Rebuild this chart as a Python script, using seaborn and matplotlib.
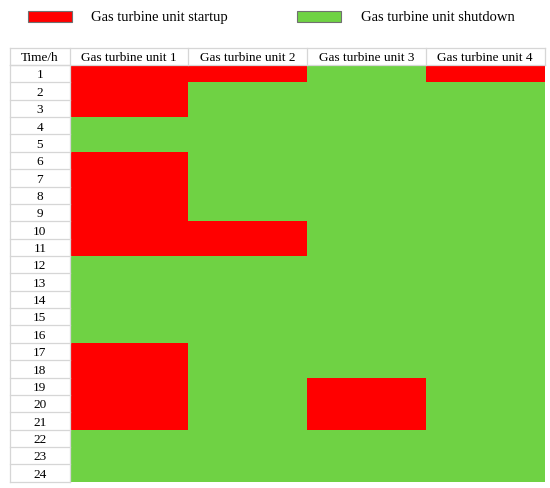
import numpy as np
import pandas as pd
import seaborn as sns
import matplotlib.pyplot as plt
from matplotlib.colors import ListedColormap
from matplotlib.patches import Patch

# data: 1 = startup, 0 = shutdown
hours = list(range(1, 25))
units = ["Gas turbine unit 1", "Gas turbine unit 2", "Gas turbine unit 3", "Gas turbine unit 4"]
unit1_on = [1, 2, 3, 6, 7, 8, 9, 10, 11, 17, 18, 19, 20, 21]
unit2_on = [1, 10, 11]
unit3_on = [19, 20, 21]
unit4_on = [1]

RED = "#ff0000"
GREEN = "#6fd244"
GRID = "#d6d6d6"

plt.rcParams['font.family'] = ['Liberation Serif', 'DejaVu Serif']

status = pd.DataFrame(
    {u: [1 if h in on else 0 for h in hours]
     for u, on in zip(units, [unit1_on, unit2_on, unit3_on, unit4_on])},
    index=hours)

fig = plt.figure(figsize=(5.5, 4.88), dpi=100)
W, H = 550, 488
ax = fig.add_axes([69.5 / W, 1 - 481.7 / H, (544.5 - 69.5) / W, (481.7 - 65) / H])
sns.heatmap(status, cmap=ListedColormap([GREEN, RED]), vmin=0, vmax=1,
            cbar=False, xticklabels=False, yticklabels=False, ax=ax)
ax.set_xlabel("")
ax.set_ylabel("")

# header row and time column, drawn outside the cell area
n_rows, n_cols = status.shape
dy = 0.1  # nudge text a little lower, like the original table
ax.text(-0.25, -0.5 + dy, "Time/h", ha="center", va="center", fontsize=9.5, clip_on=False)
for j, u in enumerate(units):
    ax.text(j + 0.5, -0.5 + dy, u, ha="center", va="center", fontsize=9.5, clip_on=False)
for i, h in enumerate(hours):
    ax.text(-0.25, i + 0.5 + dy, str(h), ha="center", va="center", fontsize=9.5, clip_on=False)

lw = 0.9
for i in range(n_rows + 1):
    ax.plot([-0.5, 0], [i, i], color=GRID, lw=lw, clip_on=False)
for y in [-1, 0]:
    ax.plot([-0.5, n_cols], [y, y], color=GRID, lw=lw, clip_on=False)
for x in [-0.5, 0] + list(range(1, n_cols + 1)):
    ax.plot([x, x], [-1, 0], color=GRID, lw=lw, clip_on=False)
for x in [-0.5, 0]:
    ax.plot([x, x], [0, n_rows], color=GRID, lw=lw, clip_on=False)

handles = [Patch(facecolor=RED, edgecolor="#707070", linewidth=0.8),
           Patch(facecolor=GREEN, edgecolor="#707070", linewidth=0.8)]
fig.legend(handles, ["Gas turbine unit startup", "Gas turbine unit shutdown"],
           loc="center left", bbox_to_anchor=(28 / W, 1 - 17.5 / H), ncol=2,
           frameon=False, fontsize=10.5, borderpad=0, borderaxespad=0,
           handlelength=3.0, handleheight=0.85, handletextpad=1.35,
           columnspacing=4.75)

fig.savefig("out.png", dpi=100)
